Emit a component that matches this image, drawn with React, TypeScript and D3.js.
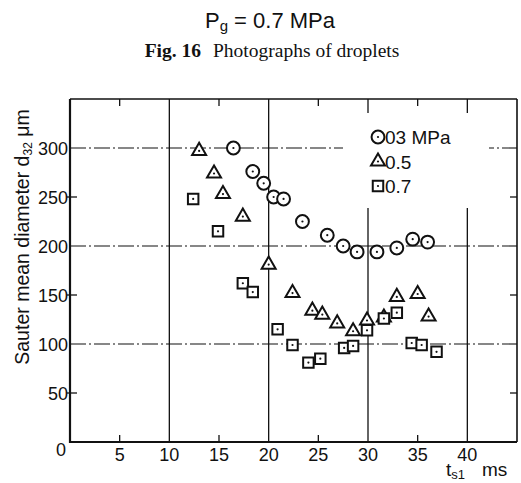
import React from "react";
import * as d3 from "d3";

// ---- data ----
const xTickValues = [5, 10, 15, 20, 25, 30, 35, 40];
const yTickValues = [50, 100, 150, 200, 250, 300];
const xGridValues = [10, 20, 30, 40];
const yGridValues = [100, 200, 300];
const minorTopTicks = [5, 15, 25, 35];
const minorSideTicks = [50, 150, 250];

const series03: [number, number][] = [
  [16.45, 300], [18.4, 276], [19.5, 264], [20.5, 250], [21.5, 248], [23.4, 225],
  [25.9, 211], [27.5, 200], [28.9, 194], [30.9, 194], [32.9, 198], [34.5, 207], [36.0, 204],
];
const series05: [number, number][] = [
  [13.0, 297], [14.5, 274], [15.4, 253], [17.4, 230], [20.0, 181], [22.4, 152],
  [24.4, 134], [25.4, 130], [26.9, 121], [28.5, 113], [29.9, 124], [31.6, 127],
  [32.9, 148], [35.0, 151], [36.1, 128],
];
const series07: [number, number][] = [
  [12.4, 248], [14.9, 215], [17.4, 162], [18.4, 153], [20.9, 115], [22.4, 99],
  [24.0, 81], [25.2, 85], [27.6, 96], [28.5, 98], [29.9, 114], [31.6, 126],
  [32.9, 132], [34.4, 101], [35.4, 99], [36.9, 92],
];
const legendLabels = ["03 MPa", "0.5", "0.7"];

const W = 521, H = 483;
const L = 70, R = 517, T = 99, B = 442;

export default function App() {
  const x = d3.scaleLinear().domain([0, 45]).range([L, R]);
  const y = d3.scaleLinear().domain([0, 350]).range([B, T]);

  const circ = d3.symbol(d3.symbolCircle, 130)()!;
  const tri = d3.symbol(d3.symbolTriangle, 85)()!;
  const sq = d3.symbol(d3.symbolSquare, 110)()!;
  const shapes = [circ, tri, sq];
  const series = [series03, series05, series07];

  const sans = "'Liberation Sans', Arial, sans-serif";
  const serif = "'Liberation Serif', 'DejaVu Serif', serif";

  const marker = (path: string, key: string, cx: number, cy: number) => (
    <g key={key} transform={`translate(${cx},${cy})`}>
      <path d={path} fill="white" stroke="#111" strokeWidth={2} />
      <circle r={1.1} fill="#111" />
    </g>
  );

  return (
    <svg width={W} height={H} style={{ position: "absolute", left: 0, top: 0, background: "white" }}>
      {/* titles */}
      <text x={270} y={28} textAnchor="middle" fontFamily={sans} fontSize={22} fill="#111">
        P<tspan fontSize={15} dy={3}>g</tspan><tspan dy={-3}> = 0.7 MPa</tspan>
      </text>
      <text x={272} y={57} textAnchor="middle" fontFamily={serif} fontSize={19.5} fill="#111">
        <tspan fontWeight="bold">Fig. 16</tspan><tspan dx={12}>Photographs of droplets</tspan>
      </text>

      {/* vertical grid */}
      {xGridValues.map(v => (
        <line key={"gx" + v} x1={x(v)} x2={x(v)} y1={T} y2={B} stroke="#111" strokeWidth={1.3} />
      ))}
      {/* horizontal grid */}
      {yGridValues.map(v => (
        <line key={"gy" + v} x1={L} x2={R} y1={y(v)} y2={y(v)} stroke="#111" strokeWidth={1.1}
          strokeDasharray="16,3,2,3" />
      ))}
      {/* legend background gap */}
      <rect x={343} y={113} width={146} height={95} fill="white" />

      {/* minor ticks */}
      {minorTopTicks.map(v => (
        <g key={"mt" + v}>
          <line x1={x(v)} x2={x(v)} y1={T} y2={T + 7} stroke="#111" strokeWidth={1.3} />
          <line x1={x(v)} x2={x(v)} y1={B} y2={B - 7} stroke="#111" strokeWidth={1.3} />
        </g>
      ))}
      {minorSideTicks.map(v => (
        <g key={"ms" + v}>
          <line x1={L - 3} x2={L + 7} y1={y(v)} y2={y(v)} stroke="#111" strokeWidth={1.3} />
          <line x1={R} x2={R - 7} y1={y(v)} y2={y(v)} stroke="#111" strokeWidth={1.3} />
        </g>
      ))}

      {/* frame */}
      <line x1={L} x2={R} y1={T} y2={T} stroke="#111" strokeWidth={1.6} />
      <line x1={R} x2={R} y1={T} y2={B} stroke="#111" strokeWidth={1.6} />
      <line x1={L} x2={L} y1={T} y2={B + 1} stroke="#111" strokeWidth={2.2} />
      <line x1={L - 1} x2={R} y1={B} y2={B} stroke="#111" strokeWidth={2.2} />

      {/* y tick labels */}
      {yTickValues.map(v => (
        <text key={"yl" + v} x={L - 2} y={y(v) + 6.5} textAnchor="end" fontFamily={sans} fontSize={18} fill="#111">
          {v}
        </text>
      ))}
      <text x={61} y={456} textAnchor="middle" fontFamily={sans} fontSize={18} fill="#111">0</text>
      {/* x tick labels */}
      {xTickValues.map(v => (
        <text key={"xl" + v} x={x(v)} y={461} textAnchor="middle" fontFamily={sans} fontSize={18} fill="#111">
          {v}
        </text>
      ))}
      <text x={446} y={476} fontFamily={sans} fontSize={19} fill="#111">
        t<tspan fontSize={13} dy={3}>s1</tspan><tspan dx={17} dy={-3}>ms</tspan>
      </text>

      {/* y axis title */}
      <text transform={`translate(29,${237}) rotate(-90)`} textAnchor="middle" fontFamily={sans} fontSize={19.5} fill="#111">
        Sauter mean diameter  d<tspan fontSize={12} dy={3}>32</tspan><tspan dy={-3}> μm</tspan>
      </text>

      {/* data */}
      {series.map((s, i) => (
        <g key={"s" + i}>
          {s.map((d, j) => marker(shapes[i], `m${i}-${j}`, x(d[0]), y(d[1])))}
        </g>
      ))}

      {/* legend */}
      {legendLabels.map((lab, i) => (
        <g key={"lg" + i}>
          {marker(shapes[i], "lm" + i, 378, 137 + i * 24.5)}
          <text x={385} y={137 + i * 24.5 + 7} fontFamily={sans} fontSize={19} fill="#111">{lab}</text>
        </g>
      ))}
    </svg>
  );
}
